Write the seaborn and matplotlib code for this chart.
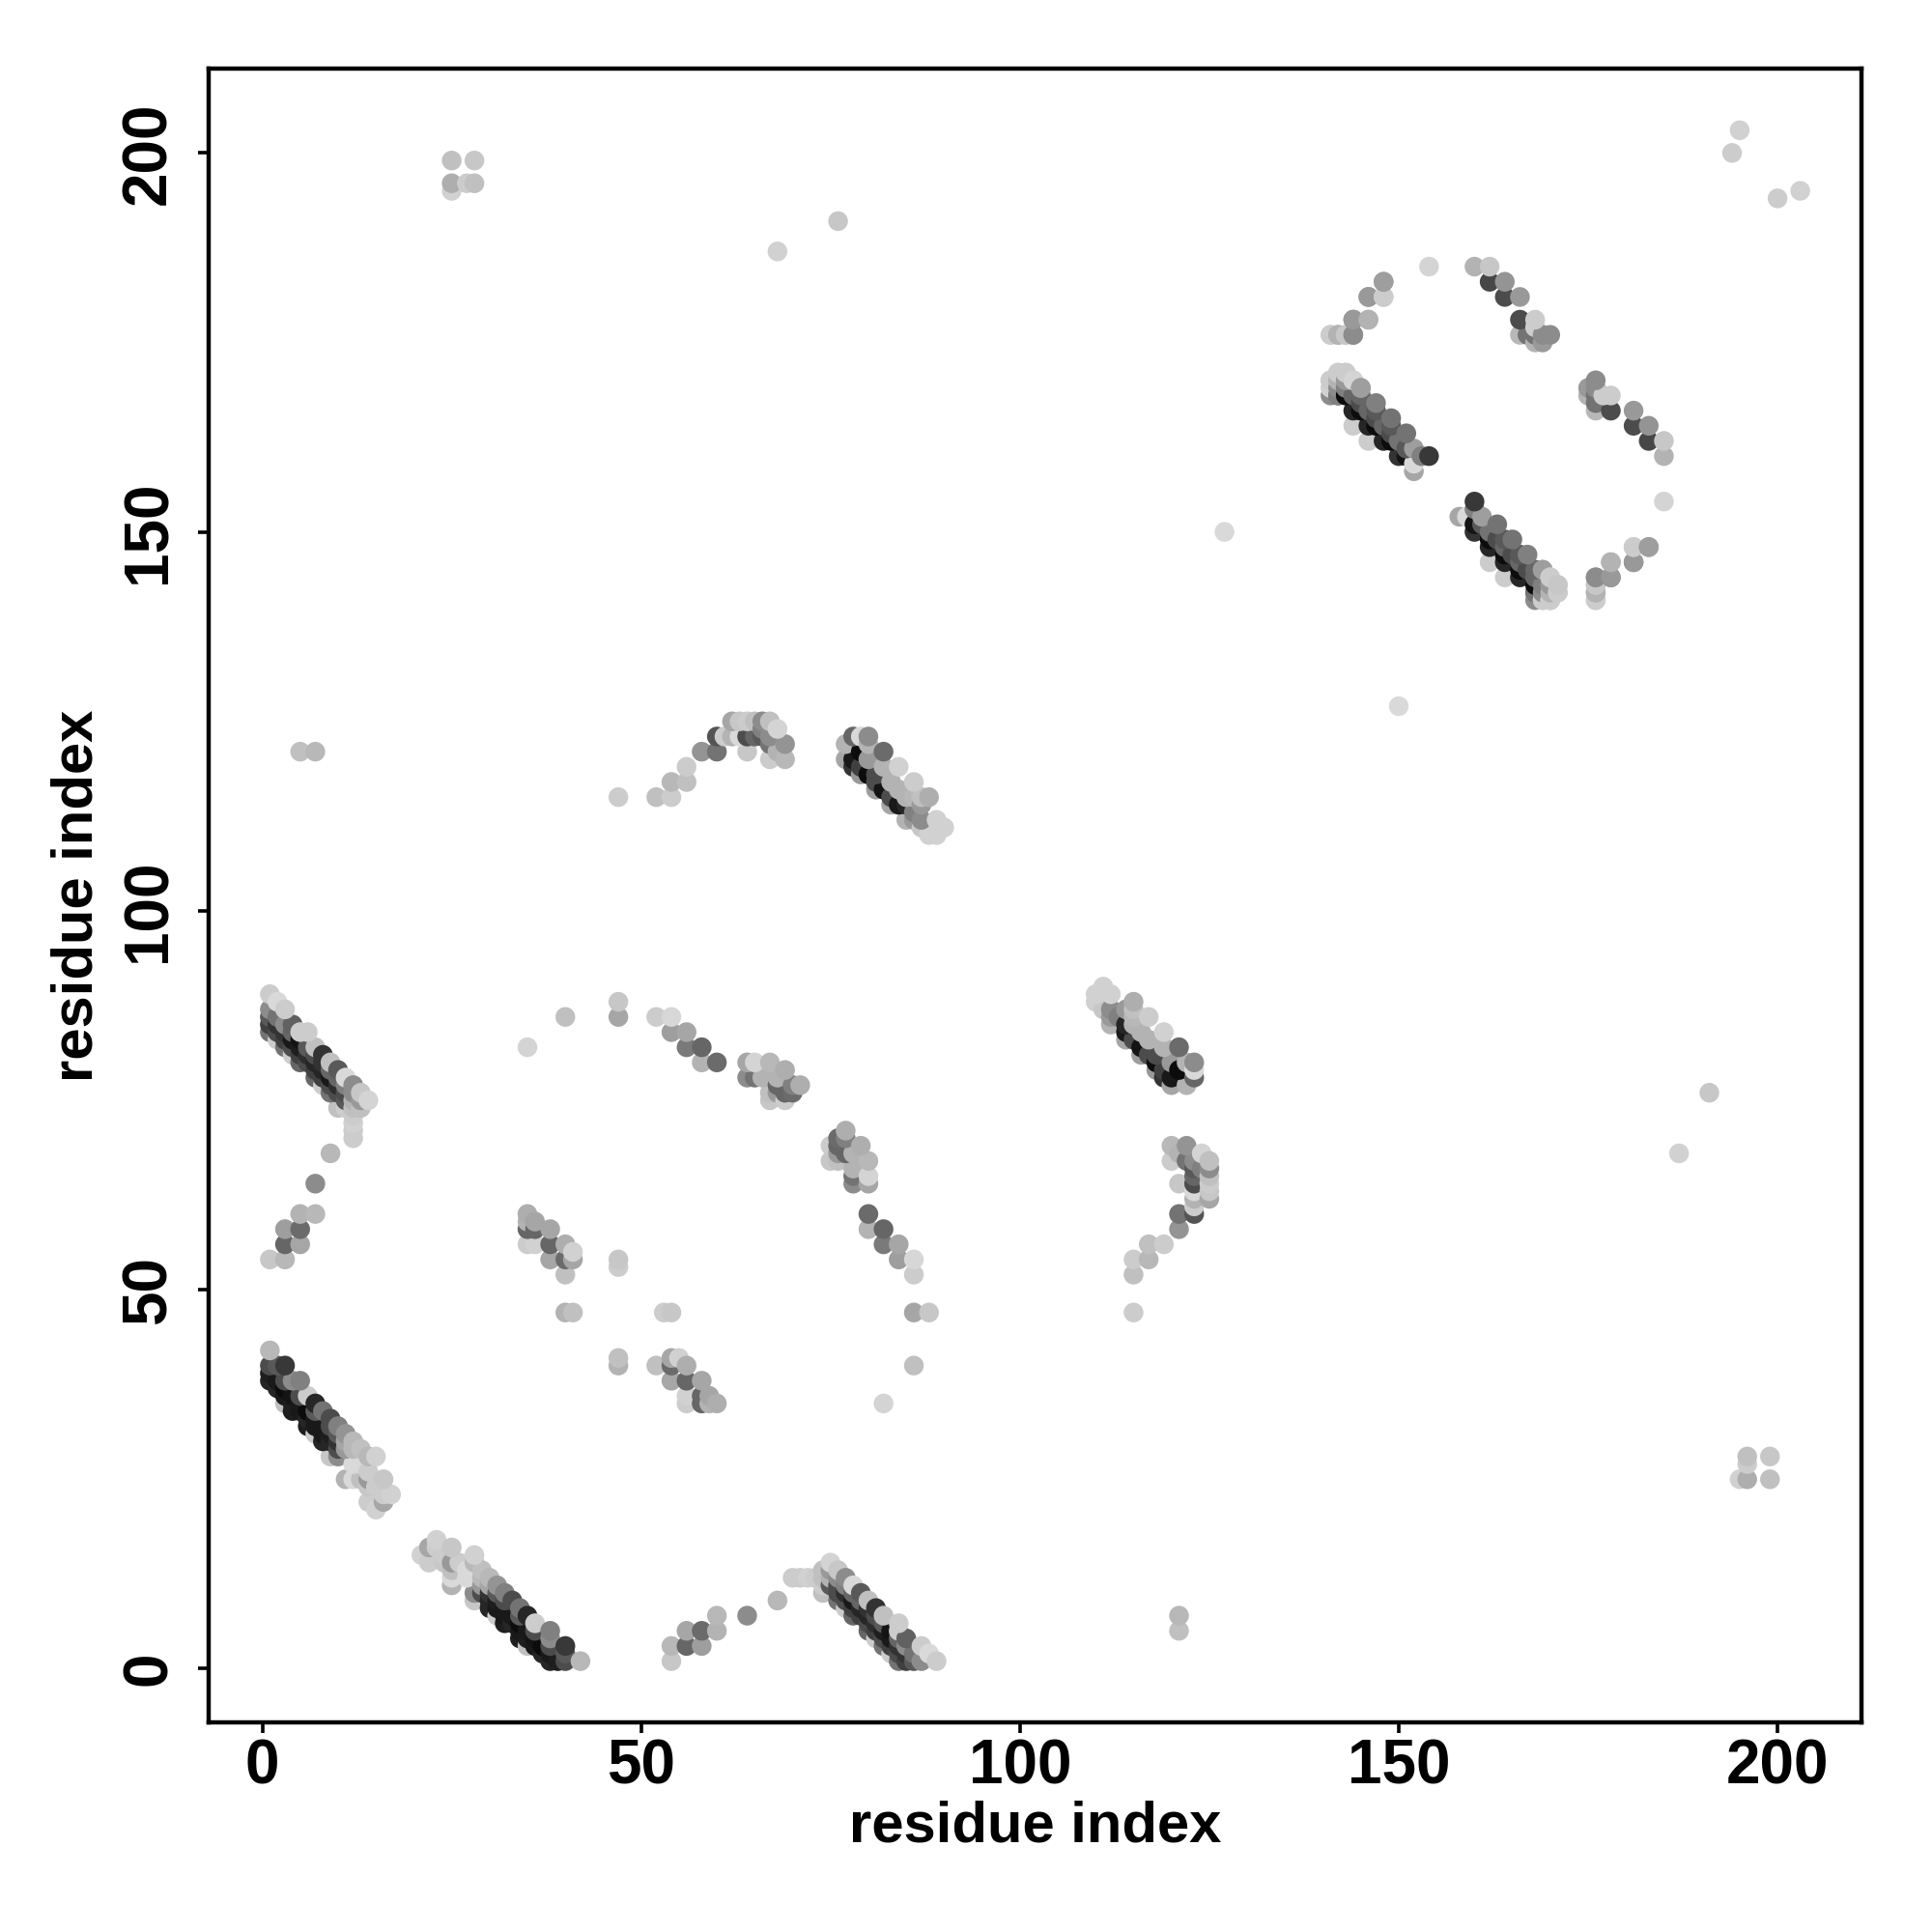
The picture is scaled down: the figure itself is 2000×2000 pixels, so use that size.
import pandas as pd
import matplotlib
matplotlib.use("Agg")
import matplotlib.pyplot as plt
import seaborn as sns

# Contact map values, one half only (the map is mirrored on the diagonal below).
# g is the grey level of the dot, 0 black and 1 white.
band_a_x = [1, 3, 5, 15, 6, 7, 9, 11, 14, 2, 4, 8, 10, 12, 13,
            1, 3, 5, 7, 9, 10, 12, 11, 16,
            1, 2, 3, 4, 5, 6, 7, 8, 9, 10, 11, 13, 14, 17,
            2, 3, 4, 5, 6, 7, 8, 9, 10, 12, 14, 16, 15,
            1, 3, 4, 6, 7, 8, 10, 13, 14, 16, 9, 12, 14, 11, 15]
band_a_y = [42, 40, 38, 28, 36, 35, 33, 31, 28, 40, 38, 34, 32, 30, 29,
            40, 38, 36, 34, 32, 31, 29, 30, 25,
            39, 38, 37, 36, 35, 34, 33, 32, 31, 30, 29, 27, 26, 23,
            37, 36, 35, 34, 33, 32, 31, 30, 29, 27, 25, 23, 24,
            38, 35, 34, 32, 31, 30, 28, 25, 24, 22, 28, 25, 22, 25, 21]
band_a_g = [.72, .22, .5, .82, .8, .15, .3, .58, .72, .35, .55, .45, .5, .72, .75,
            .3, .3, .3, .35, .3, .35, .72, .65, .78,
            .12, .1, .05, .08, .1, .05, .1, .1, .12, .2, .6, .85, .8, .82,
            .15, .1, .12, .1, .15, .1, .1, .15, .3, .85, .6, .8, .8,
            .15, .75, .12, .12, .8, .15, .55, .75, .78, .65, .78, .85, .8, .7, .82]

band_b_x = [1, 2, 3, 6, 4, 5, 7, 8, 9, 10, 11, 12, 13, 14,
            1, 2, 3, 4, 5, 6, 7, 8, 9, 10, 11, 12, 13,
            1, 2, 3, 4, 5, 6, 7, 8, 9, 10, 11, 12,
            1, 2, 3, 4, 5, 6, 7, 8, 9, 10, 11, 12,
            1, 2, 3, 4, 5, 7, 8, 9, 10, 11, 13, 12, 12, 12, 12]
band_b_y = [89, 88, 87, 84, 85, 84, 82, 81, 80, 79, 78, 77, 76, 75,
            87, 86, 85, 84, 83, 82, 81, 80, 79, 78, 77, 76, 75,
            86, 85, 84, 83, 82, 81, 80, 79, 78, 77, 76, 75,
            85, 84, 83, 82, 81, 80, 79, 78, 77, 76, 75, 74,
            84, 83, 82, 81, 80, 78, 77, 76, 74, 74, 74, 73, 72, 71, 70]
band_b_g = [.8, .85, .8, .8, .38, .8, .75, .2, .75, .35, .85, .55, .78, .83,
            .55, .45, .55, .4, .08, .35, .3, .2, .4, .4, .5, .55, .6,
            .35, .2, .2, .1, .12, .18, .15, .15, .1, .18, .3, .7,
            .25, .3, .25, .3, .25, .3, .25, .25, .3, .3, .35, .75,
            .45, .8, .45, .8, .4, .4, .8, .45, .75, .8, .75, .8, .82, .8, .8]

arc_left_x = [1, 3, 3, 5, 3, 5, 5, 7, 7, 9]
arc_left_y = [54, 54, 56, 56, 58, 58, 60, 60, 64, 68]
arc_left_g = [.78, .72, .4, .65, .62, .42, .7, .72, .55, .72]

strip_x = [35, 35, 35, 35, 36, 36, 36, 38, 38, 38, 40, 41, 40, 41, 40, 40, 41, 47, 47]
strip_y = [60, 59, 58, 56, 59, 58, 56, 58, 56, 54, 56, 55, 54, 54, 52, 47, 47, 53, 54]
strip_g = [.68, .7, .4, .8, .65, .4, .82, .65, .4, .65, .68, .82, .42, .65, .75, .7, .75, .8, .78]

arc_mid_x = [35, 40, 47, 47, 52, 54, 54, 56, 56, 58, 58, 60,
             64, 65, 67, 69, 64, 65, 66, 67, 68, 67, 68, 69, 70, 71, 70, 69, 68]
arc_mid_y = [82, 86, 88, 86, 86, 86, 84, 84, 82, 82, 80, 80,
             80, 80, 80, 79, 78, 78, 78, 76, 76, 75, 78, 76, 77, 77, 76, 75, 77]
arc_mid_g = [.83, .75, .78, .65, .8, .84, .62, .65, .48, .4, .7, .42,
             .65, .83, .72, .68, .55, .45, .7, .75, .6, .78, .7, .4, .5, .68, .42, .8, .4]

arc_top_x = [47, 52, 54, 54, 56, 56, 58, 60, 60, 61, 62, 62, 63, 63, 64, 64, 64, 65, 66, 67,
             68, 69, 69, 67, 65, 66, 67, 68, 66, 67]
arc_top_y = [115, 115, 115, 117, 117, 119, 121, 121, 123, 123, 125, 123, 125, 123, 125, 121, 123, 125, 125, 125,
             124, 122, 120, 120, 123, 123, 122, 121, 124, 123]
arc_top_g = [.8, .75, .8, .72, .75, .8, .58, .45, .33, .8, .65, .7, .78, .85, .8, .78, .3, .75, .55, .75,
             .83, .58, .72, .8, .4, .35, .45, .7, .5, .55]

band_c_x = [78, 79, 80, 77, 77, 82, 84, 86, 88, 89, 90, 89, 88,
            79, 81, 83, 85, 87, 78, 78, 79, 80, 81, 82, 84, 85, 83, 81, 79,
            86, 87, 86, 87, 80, 80, 82, 83, 84, 85, 87, 86]
band_c_y = [123, 123, 123, 122, 120, 121, 119, 117, 115, 112, 111, 110, 110,
            118, 116, 114, 112, 111, 120, 119, 121, 118, 118, 116, 114, 114, 115, 117, 119,
            113, 112, 112, 114, 122, 120, 119, 117, 116, 115, 115, 115]
band_c_g = [.4, .85, .55, .7, .65, .42, .82, .8, .68, .82, .82, .82, .82,
            .6, .62, .65, .7, .78, .1, .2, .05, .05, .3, .08, .1, .15, .3, .3, .25,
            .5, .55, .6, .6, .7, .6, .7, .7, .7, .7, .75, .72]

band_d_x = [141, 142, 143, 144, 145, 147, 149, 151, 152, 154, 153, 152, 152,
            144, 146, 148, 150, 143, 145, 147, 149, 151,
            142, 141, 141, 144, 146, 143, 144, 146, 148, 150, 145, 147, 149,
            141, 142, 142, 143, 145, 147, 149, 151]
band_d_y = [170, 171, 171, 170, 169, 167, 165, 163, 161, 160, 160, 158, 159,
            166, 164, 162, 160, 168, 166, 164, 162, 160,
            168, 168, 169, 164, 162, 169, 168, 166, 164, 162, 168, 166, 164,
            170, 170, 169, 170, 167, 165, 163, 161]
band_d_g = [.82, .8, .78, .8, .62, .5, .45, .45, .62, .22, .5, .65, .85,
            .15, .15, .15, .2, .05, .05, .05, .05, .08,
            .45, .55, .8, .8, .8, .5, .4, .4, .4, .45, .4, .35, .35,
            .8, .7, .55, .6, .3, .3, .3, .35]

arc_far_x = [154, 160, 162, 162, 164, 164, 166, 166, 168, 166, 168, 167, 169, 169, 170, 168, 168,
             148, 146, 148, 144, 146, 144, 141, 142, 143,
             148, 148, 146, 146, 144, 144, 142, 141, 143, 171, 171, 170, 170, 169, 169, 168]
arc_far_y = [185, 185, 185, 183, 183, 181, 181, 178, 178, 176, 175, 176, 175, 176, 176, 176, 177,
             183, 181, 181, 178, 178, 176, 176, 176, 176,
             183, 181, 181, 178, 178, 176, 176, 176, 176, 143, 142, 144, 141, 141, 145, 142]
arc_far_g = [.83, .7, .78, .28, .58, .3, .6, .3, .8, .72, .7, .45, .6, .55, .55, .45, .8,
             .6, .55, .8, .55, .7, .58, .8, .7, .78,
             .62, .8, .6, .7, .6, .55, .7, .8, .78, .8, .8, .83, .8, .82, .62, .5]

lone_x = [25, 25, 25, 27, 28, 28, 68, 76, 127, 5, 7, 194, 195]
lone_y = [195, 196, 199, 196, 196, 199, 187, 191, 150, 121, 121, 200, 203]
lone_g = [.82, .68, .75, .8, .75, .78, .82, .78, .85, .75, .72, .8, .82]

xs = (band_a_x + band_b_x + arc_left_x + strip_x + arc_mid_x + arc_top_x + band_c_x
      + band_d_x + arc_far_x + lone_x)
ys = (band_a_y + band_b_y + arc_left_y + strip_y + arc_mid_y + arc_top_y + band_c_y
      + band_d_y + arc_far_y + lone_y)
gs = (band_a_g + band_b_g + arc_left_g + strip_g + arc_mid_g + arc_top_g + band_c_g
      + band_d_g + arc_far_g + lone_g)
tick_values = [0, 50, 100, 150, 200]

half = pd.DataFrame({"x": xs, "y": ys, "g": gs})
contacts = pd.concat([half, half.rename(columns={"x": "y", "y": "x"})], ignore_index=True)

# outer side of each band is drawn last, it sits on top in the original
contacts["d"] = contacts["x"] + contacts["y"]
contacts = contacts.sort_values(["d", "x"], kind="stable")

sns.set_theme(style="white")
plt.rcParams["font.family"] = ["Liberation Sans", "DejaVu Sans"]

fig = plt.figure(figsize=(10, 10), dpi=200)
ax = fig.add_axes([0.108, 0.1085, 0.8555, 0.8558])

sns.scatterplot(data=contacts, x="x", y="y", hue="g", palette="gray", hue_norm=(0, 1),
                s=54, linewidth=0, legend=False, ax=ax)

ax.set_xlim(-7.08, 211.08)
ax.set_ylim(-7.08, 211.08)
ax.set_xticks(tick_values)
ax.set_yticks(tick_values)
ax.tick_params(axis="both", direction="out", length=3.8, width=1.3, color="black",
               left=True, bottom=True, labelcolor="black")
ax.tick_params(axis="x", pad=2)
ax.tick_params(axis="y", pad=7.5)
for lab in ax.get_xticklabels():
    lab.set_fontsize(23)
    lab.set_fontweight("bold")
for lab in ax.get_yticklabels():
    lab.set_fontsize(23)
    lab.set_fontweight("bold")
    lab.set_rotation(90)
    lab.set_va("center")
ax.set_xlabel("residue index", fontsize=21.5, fontweight="bold", labelpad=1.5, color="black")
ax.set_ylabel("residue index", fontsize=21.5, fontweight="bold", labelpad=6, color="black")
for side in ax.spines.values():
    side.set_color("black")
    side.set_linewidth(1.6)

fig.savefig("out.png", dpi=200, facecolor="white")
